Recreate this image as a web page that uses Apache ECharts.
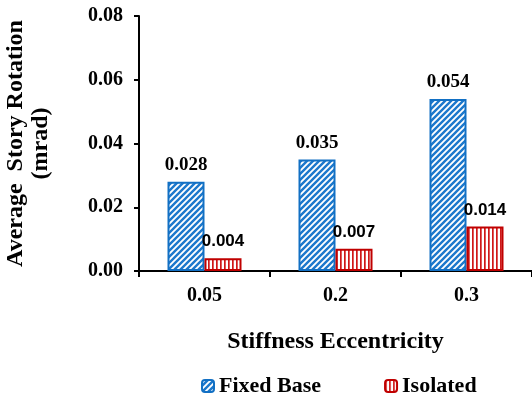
<!DOCTYPE html>
<html>
<head>
<meta charset="utf-8">
<script src="https://cdn.jsdelivr.net/npm/echarts@6/dist/echarts.min.js"></script>
<style>
  html, body { margin: 0; padding: 0; background: #fff; }
  #main { width: 532px; height: 401px; }
</style>
</head>
<body>
<div id="main"></div>
<script>
// data
var categories = ['0.05', '0.2', '0.3'];
var fixedBase = [0.028, 0.035, 0.054];
var isolated = [0.004, 0.007, 0.014];
var yTicks = [0, 0.02, 0.04, 0.06, 0.08];

var serif = '"Liberation Serif", "Times New Roman", serif';
var sans = '"Liberation Sans", Arial, sans-serif';

// hatch fills
function diagPattern(color) {
  var c = document.createElement('canvas');
  c.width = 6; c.height = 6;
  var ctx = c.getContext('2d');
  ctx.fillStyle = '#fff';
  ctx.fillRect(0, 0, 6, 6);
  ctx.strokeStyle = color;
  ctx.lineWidth = 2.4;
  ctx.beginPath();
  ctx.moveTo(0, 6); ctx.lineTo(6, 0);
  ctx.moveTo(-1, 1); ctx.lineTo(1, -1);
  ctx.moveTo(5, 7); ctx.lineTo(7, 5);
  ctx.stroke();
  return c;
}

function vertPattern(color) {
  var c = document.createElement('canvas');
  c.width = 4; c.height = 4;
  var ctx = c.getContext('2d');
  ctx.fillStyle = '#fff';
  ctx.fillRect(0, 0, 4, 4);
  ctx.fillStyle = color;
  ctx.fillRect(0, 0, 1.7, 4);
  return c;
}

var chart = echarts.init(document.getElementById('main'), null, { renderer: 'canvas' });

var option = {
  animation: false,
  backgroundColor: '#fff',
  grid: {
    left: 139,
    right: 0,
    top: 16,
    bottom: 130,
    outerBoundsMode: 'none'
  },
  legend: {
    data: ['Fixed Base', 'Isolated'],
    left: 196,
    top: 370,
    itemWidth: 12,
    itemHeight: 12,
    itemGap: 63,
    textStyle: {
      fontFamily: serif,
      fontWeight: 'bold',
      fontSize: 22,
      color: '#000'
    }
  },
  xAxis: {
    type: 'category',
    data: categories,
    name: 'Stiffness Eccentricity',
    nameLocation: 'middle',
    nameGap: 59,
    nameTextStyle: {
      fontFamily: serif,
      fontWeight: 'bold',
      fontSize: 24,
      color: '#000'
    },
    axisLine: { lineStyle: { color: '#000', width: 2 } },
    axisTick: { show: true, length: 6, lineStyle: { color: '#000', width: 2 } },
    axisLabel: {
      margin: 15,
      fontFamily: serif,
      fontWeight: 'bold',
      fontSize: 20,
      color: '#000'
    }
  },
  yAxis: {
    type: 'value',
    min: 0,
    max: 0.08,
    interval: 0.02,
    name: 'Average  Story Rotation\n(mrad)',
    nameLocation: 'middle',
    nameGap: 86,
    nameTextStyle: {
      fontFamily: serif,
      fontWeight: 'bold',
      fontSize: 24,
      lineHeight: 25,
      color: '#000'
    },
    axisLine: { show: true, lineStyle: { color: '#000', width: 2 } },
    axisTick: { show: true, length: 5, lineStyle: { color: '#000', width: 2 } },
    splitLine: { show: false },
    axisLabel: {
      margin: 16,
      fontFamily: serif,
      fontWeight: 'bold',
      fontSize: 20,
      color: '#000',
      formatter: function (v) {
        return yTicks.indexOf(Math.round(v * 100) / 100) >= 0 ? v.toFixed(2) : '';
      }
    }
  },
  series: [{
    name: 'Fixed Base',
    type: 'bar',
    data: fixedBase,
    barWidth: 37,
    barGap: '0%',
    itemStyle: {
      color: { image: diagPattern('#1c78cc'), repeat: 'repeat' },
      borderColor: '#1270c4',
      borderWidth: 2
    },
    label: {
      show: true,
      position: 'top',
      distance: 7,
      fontFamily: serif,
      fontWeight: 'bold',
      fontSize: 19,
      color: '#000'
    }
  }, {
    name: 'Isolated',
    type: 'bar',
    data: isolated,
    barWidth: 37,
    itemStyle: {
      color: { image: vertPattern('#d01818'), repeat: 'repeat' },
      borderColor: '#c00000',
      borderWidth: 2
    },
    label: {
      show: true,
      position: 'top',
      distance: 8,
      fontFamily: sans,
      fontWeight: 'bold',
      fontSize: 17,
      color: '#000'
    }
  }]
};

chart.setOption(option);
</script>
</body>
</html>
